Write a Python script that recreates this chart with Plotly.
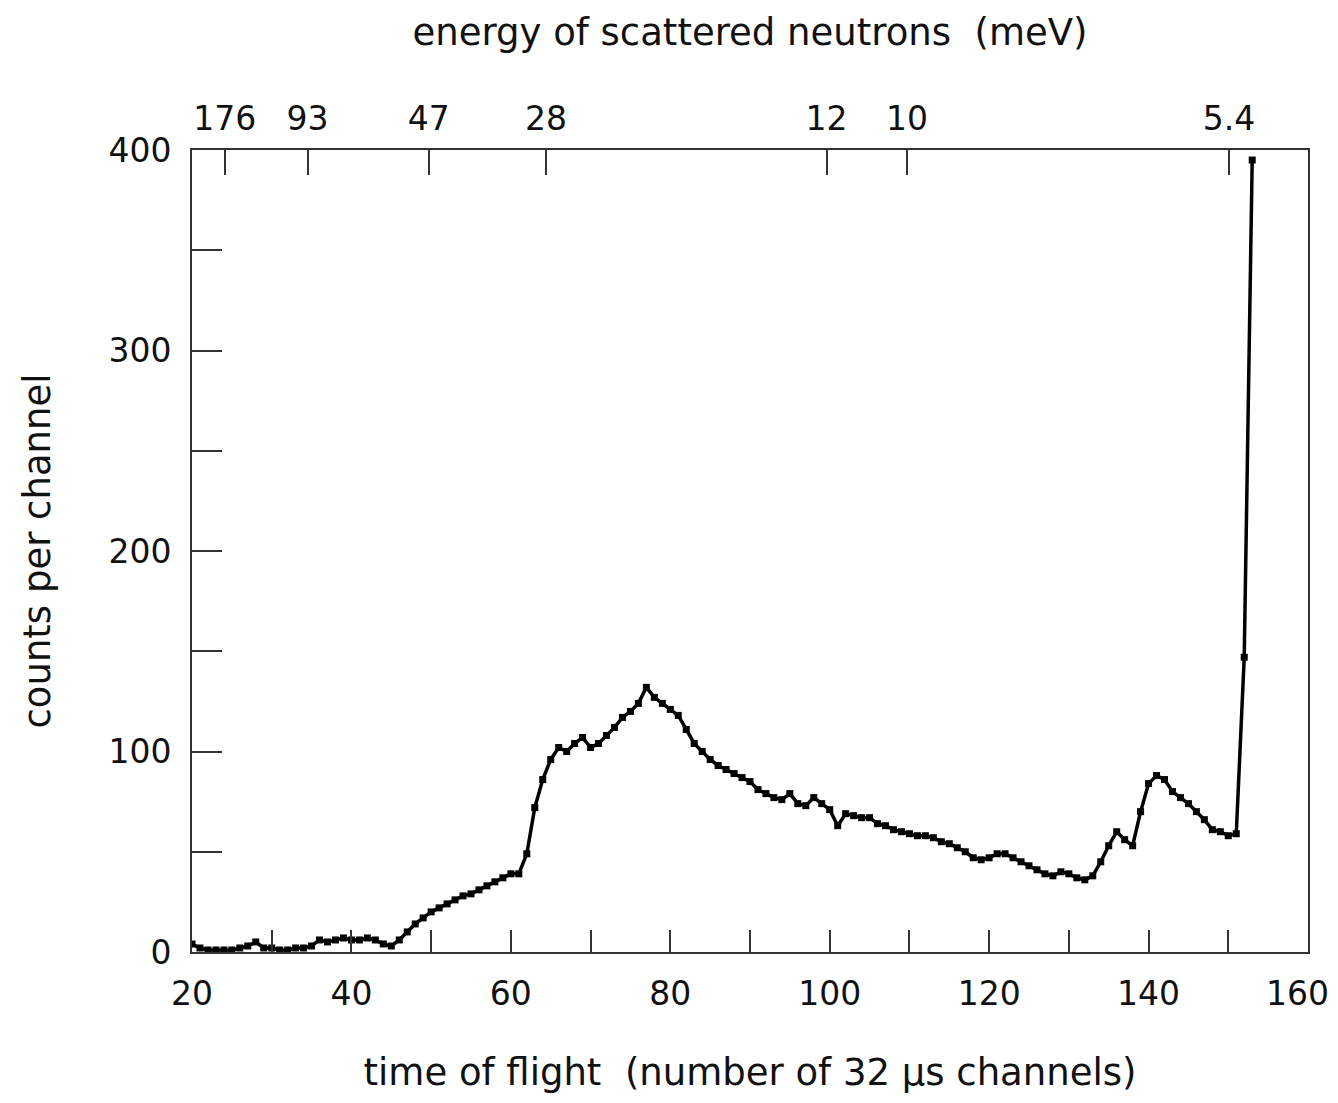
import plotly.graph_objects as go

# channel numbers (time of flight, 32 us channels)
channels = list(range(20, 154))
# counts per channel
counts = [
    4, 2, 1, 1, 1, 1, 2, 3, 5, 2,          # 20-29
    2, 1, 1, 2, 2, 3, 6, 5, 6, 7,          # 30-39
    6, 6, 7, 6, 4, 3, 6, 10, 14, 17,       # 40-49
    20, 22, 24, 26, 28, 29, 31, 33, 35, 37,  # 50-59
    39, 39, 49, 72, 86, 96, 102, 100, 104, 107,  # 60-69
    102, 104, 108, 112, 117, 120, 124, 132, 127, 124,  # 70-79
    121, 118, 111, 104, 100, 96, 93, 91, 89, 87,  # 80-89
    85, 81, 79, 77, 76, 79, 74, 73, 77, 74,  # 90-99
    71, 63, 69, 68, 67, 67, 64, 63, 61, 60,  # 100-109
    59, 58, 58, 57, 55, 54, 52, 50, 47, 46,  # 110-119
    47, 49, 49, 47, 45, 43, 41, 39, 38, 40,  # 120-129
    39, 37, 36, 38, 45, 53, 60, 56, 53, 70,  # 130-139
    84, 88, 86, 80, 77, 74, 70, 66, 61, 60,  # 140-149
    58, 59, 147, 395,                        # 150-153
]

# top axis: energy of scattered neutrons (meV) at channel positions
energy_labels = ["176", "93", "47", "28", "12", "10", "5.4"]
energy_channels = [24.1, 34.5, 49.7, 64.4, 99.6, 109.7, 150.1]

x_ticks = [20, 40, 60, 80, 100, 120, 140, 160]
x_tick_labels = ["20", "40", "60", "80", "100", "120", "140", "160\u00a0\u00a0"]
y_ticks = [0, 100, 200, 300, 400]

FONT = "DejaVu Sans"
INK = "#111111"
FRAME = "#333333"
TICK_SIZE = 33
TITLE_SIZE = 37

fig = go.Figure()
fig.add_trace(go.Scatter(
    x=channels, y=counts, mode="lines+markers",
    line=dict(color="#000000", width=3.5),
    marker=dict(color="#000000", size=7, symbol="square"),
    showlegend=False, hoverinfo="x+y",
))
fig.add_trace(go.Scatter(
    x=energy_channels, y=[None] * len(energy_channels), xaxis="x2",
    mode="markers", showlegend=False, hoverinfo="skip",
))

fig.update_layout(
    width=1330, height=1087,
    margin=dict(l=184, r=30, t=142, b=143),
    paper_bgcolor="white", plot_bgcolor="white",
    font=dict(family=FONT, color=INK, size=TICK_SIZE),
    xaxis=dict(
        range=[20, 160], tickvals=x_ticks, ticktext=x_tick_labels,
        ticks="inside", ticklen=22, tickwidth=2, tickcolor=FRAME,
        minor=dict(dtick=10, tick0=20, ticks="inside", ticklen=22, tickwidth=2, tickcolor=FRAME),
        showline=True, linecolor=FRAME, linewidth=2, mirror=True,
        showgrid=False, zeroline=False, automargin=False,
        tickfont=dict(size=TICK_SIZE), ticklabelstandoff=11,
        ticklabeloverflow="allow",
        title=dict(text="time of flight  (number of 32 \u03bcs channels)",
                   font=dict(size=TITLE_SIZE), standoff=48),
    ),
    xaxis2=dict(
        range=[20, 160], overlaying="x", side="top", anchor="y",
        tickvals=energy_channels, ticktext=energy_labels,
        ticks="inside", ticklen=25, tickwidth=2, tickcolor=FRAME,
        showline=False, showgrid=False, zeroline=False, automargin=False,
        tickfont=dict(size=TICK_SIZE), ticklabelstandoff=12,
        ticklabeloverflow="allow",
        title=dict(text="energy of scattered neutrons  (meV)",
                   font=dict(size=TITLE_SIZE), standoff=42),
    ),
    yaxis=dict(
        range=[0, 400], tickvals=y_ticks, ticktext=[str(v) for v in y_ticks],
        ticks="inside", ticklen=30, tickwidth=2, tickcolor=FRAME,
        minor=dict(dtick=50, tick0=0, ticks="inside", ticklen=30, tickwidth=2, tickcolor=FRAME),
        showline=True, linecolor=FRAME, linewidth=2, mirror=True,
        showgrid=False, zeroline=False,
        tickfont=dict(size=TICK_SIZE), ticklabelstandoff=12,
        title=dict(text="counts per channel", font=dict(size=TITLE_SIZE), standoff=46),
    ),
)

fig.write_html("out.html")
